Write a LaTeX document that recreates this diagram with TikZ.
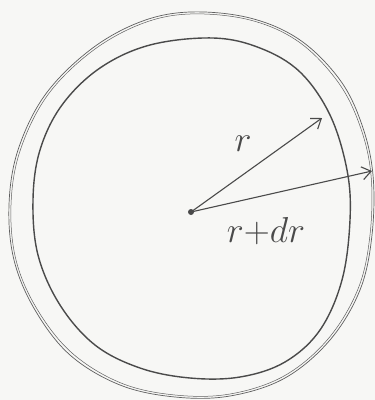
\documentclass[tikz,border=0pt]{standalone}
\usetikzlibrary{arrows.meta}
\definecolor{paper}{HTML}{F7F7F5}
\definecolor{ink}{HTML}{4A4A4A}
\definecolor{inklight}{HTML}{5E5E5E}
\tikzset{
  innerline/.style={draw=ink, line width=1.4pt, line join=round},
  outerline/.style={draw=inklight, line width=0.7pt, line join=round},
  radius arrow/.style={draw=ink, line width=1.1pt, -{Straight Barb[length=9pt, width=13pt, line width=1.1pt]}},
  lbl/.style={text=ink, font=\Huge, inner sep=0pt, scale=1.45}
}
\begin{document}
\begin{tikzpicture}[x=1pt, y=-1pt]
\fill[paper] (0,0) rectangle (375,400);
\useasboundingbox (0,0) rectangle (375,400);
% outer circle (double pencil stroke)
\draw[outerline] plot[smooth cycle, tension=0.6] coordinates {
 (190,12) (250,18) (300,40) (340,80) (362,125) (373,175) (372,235) (360,290)
 (330,340) (285,378) (230,396) (175,397) (120,385) (70,355) (35,310) (14,260)
 (9,205) (18,150) (45,95) (90,50) (140,22)};
\draw[outerline, line width=0.5pt] plot[smooth cycle, tension=0.6] coordinates {
 (190,14) (250,20) (299,42) (338,82) (360,126) (371,175) (370,235) (358,289)
 (328,339) (284,376) (230,394) (175,395) (121,383) (72,353) (37,309) (16,260)
 (11,205) (20,151) (47,96) (91,52) (141,24)};
% inner circle
\draw[innerline] plot[smooth cycle, tension=0.6] coordinates {
 (213,38) (260,48) (300,72) (330,115) (347,170) (350,220) (342,280) (320,330)
 (285,362) (240,377) (190,378) (140,368) (95,345) (60,305) (38,255) (33,200)
 (40,150) (62,105) (100,68) (150,45)};
% centre and radii
\node[circle, fill=ink, inner sep=0pt, minimum size=6pt] (c) at (191,212) {};
\coordinate (tr) at (322,118);
\coordinate (tdr) at (372,171);
\draw[radius arrow] (c.center) -- (tr);
\draw[radius arrow] (c.center) -- (tdr);
\node[lbl] (lr) at (243,144) {$r$};
\node[lbl] (ldr) at (266,231) {$r{+}dr$};
\end{tikzpicture}
\end{document}
